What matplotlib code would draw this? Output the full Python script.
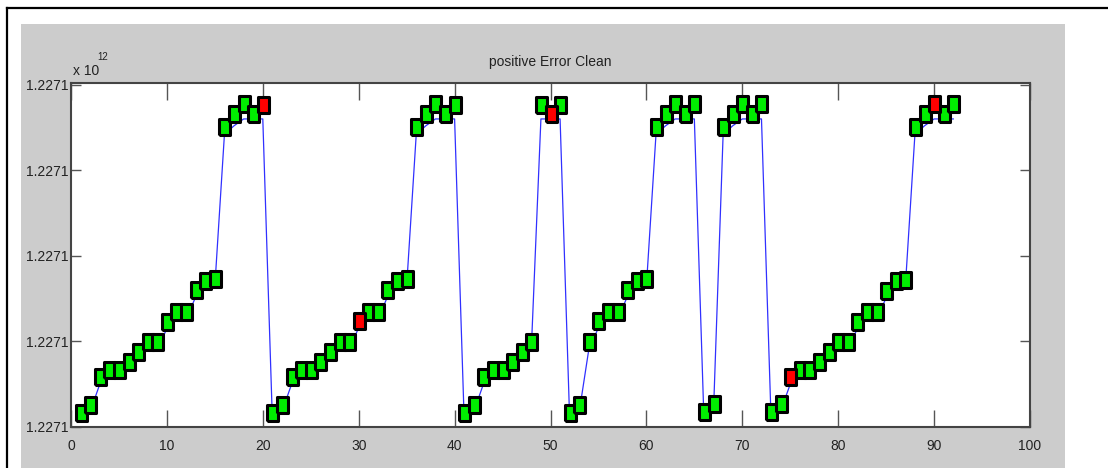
import matplotlib
matplotlib.use("Agg")
import matplotlib.pyplot as plt
from matplotlib import font_manager as fm
from matplotlib.patches import Rectangle
from matplotlib.lines import Line2D
from matplotlib.ticker import FormatStrFormatter

# values are in units of 10^12, stored as offsets of 1e-5 from BASE
BASE = 1.22710
STEP = 1e-5

sample = list(range(1, 93))
marker_off = [0.16, 0.26, 0.58, 0.67, 0.67, 0.76, 0.88, 0.99, 0.99, 1.23,
              1.34, 1.34, 1.60, 1.71, 1.73, 3.50, 3.66, 3.77, 3.66, 3.76,
              0.16, 0.26, 0.58, 0.67, 0.67, 0.76, 0.88, 0.99, 0.99, 1.24,
              1.34, 1.34, 1.60, 1.71, 1.73, 3.50, 3.66, 3.77, 3.66, 3.76,
              0.16, 0.26, 0.58, 0.67, 0.67, 0.76, 0.88, 0.99, 3.76, 3.66,
              3.76, 0.16, 0.26, 0.99, 1.24, 1.34, 1.34, 1.60, 1.71, 1.73,
              3.50, 3.66, 3.77, 3.66, 3.77, 0.17, 0.27, 3.50, 3.66, 3.77,
              3.66, 3.77, 0.17, 0.27, 0.58, 0.67, 0.67, 0.76, 0.88, 0.99,
              0.99, 1.23, 1.34, 1.34, 1.59, 1.71, 1.72, 3.50, 3.66, 3.77,
              3.66, 3.77]
line_off = [0.08, 0.18, 0.50, 0.59, 0.59, 0.68, 0.80, 0.91, 0.91, 1.15,
            1.26, 1.26, 1.52, 1.63, 1.65, 3.42, 3.52, 3.60, 3.60, 3.60,
            0.08, 0.18, 0.50, 0.59, 0.59, 0.68, 0.80, 0.91, 0.91, 1.16,
            1.26, 1.26, 1.52, 1.63, 1.65, 3.42, 3.52, 3.60, 3.60, 3.60,
            0.08, 0.18, 0.50, 0.59, 0.59, 0.68, 0.80, 0.91, 3.60, 3.60,
            3.60, 0.08, 0.18, 0.91, 1.16, 1.26, 1.26, 1.52, 1.63, 1.65,
            3.42, 3.52, 3.60, 3.60, 3.60, 0.09, 0.19, 3.42, 3.52, 3.60,
            3.60, 3.60, 0.09, 0.19, 0.50, 0.59, 0.59, 0.68, 0.80, 0.91,
            0.91, 1.15, 1.26, 1.26, 1.51, 1.63, 1.64, 3.42, 3.52, 3.60,
            3.60, 3.60]
error_samples = [20, 30, 50, 75, 90]

names = {f.name for f in fm.fontManager.ttflist}
fam = "Liberation Sans Narrow" if "Liberation Sans Narrow" in names else "Liberation Sans"
fs = 11 if fam.endswith("Narrow") else 10
plt.rcParams["font.family"] = fam

W, H = 1108, 468
fig = plt.figure(figsize=(W / 100, H / 100), dpi=100)
fig.patch.set_facecolor("white")
fig.patches.append(Rectangle((21 / W, 0), (1065 - 21) / W, (H - 24) / H,
                             transform=fig.transFigure, facecolor="#cccccc",
                             edgecolor="none", zorder=-5))
fig.lines.append(Line2D([7 / W, 1], [1 - 8 / H, 1 - 8 / H], transform=fig.transFigure,
                        color="black", lw=1.6, zorder=-4))
fig.lines.append(Line2D([7 / W, 7 / W], [0, 1 - 8 / H], transform=fig.transFigure,
                        color="black", lw=1.6, zorder=-4))

ax = fig.add_axes([71 / W, (H - 427) / H, (1030 - 71) / W, (427 - 83) / H])
ax.set_zorder(1)
ax.set_facecolor("white")

line_y = [BASE + v * STEP for v in line_off]
ax.plot(sample, line_y, color="#3030ff", lw=0.9, zorder=2)

rect = [(-0.36, -0.5), (0.36, -0.5), (0.36, 0.5), (-0.36, 0.5), (-0.36, -0.5)]
gx = [s for s in sample if s not in error_samples]
gy = [BASE + marker_off[s - 1] * STEP for s in gx]
rx = [s for s in sample if s in error_samples]
ry = [BASE + marker_off[s - 1] * STEP for s in rx]
ax.plot(gx, gy, ls="none", marker=rect, ms=11, mfc="#00ee00", mec="black", mew=2.2, zorder=3)
ax.plot(rx, ry, ls="none", marker=rect, ms=11, mfc="#ff0000", mec="black", mew=2.2, zorder=3)

ax.set_xlim(0, 100)
ax.set_ylim(BASE, BASE + 4.02 * STEP)
ax.set_xticks(range(0, 101, 10))
ax.set_yticks([BASE + k * STEP for k in range(5)])
ax.yaxis.set_major_formatter(FormatStrFormatter("%.4f"))

ax.tick_params(axis="x", direction="in", length=12, width=1, color="#555555",
               top=True, pad=9, labelsize=fs, labelcolor="#222222")
ax.tick_params(axis="y", direction="in", length=7, width=1, color="#555555",
               right=True, pad=2, labelsize=fs, labelcolor="#222222")
for sp in ax.spines.values():
    sp.set_color("#444444")
    sp.set_linewidth(1.5)

ax.set_title("positive Error Clean", fontsize=fs, color="#222222", pad=12)
fig.text(73 / W, 1 - 75 / H, "x 10", fontsize=fs, color="#222222", va="baseline")
fig.text(97 / W, 1 - 60 / H, "12", fontsize=fs * 0.7, color="#222222", va="baseline")

fig.savefig("out.png", dpi=100)
